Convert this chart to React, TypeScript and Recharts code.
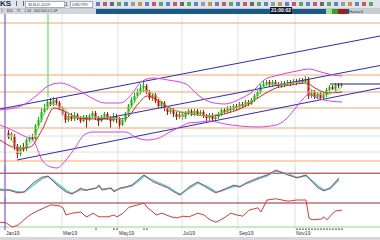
import React from 'react';
import { ComposedChart, Bar, Line, XAxis, YAxis, ReferenceLine, Scatter } from 'recharts';

// ---------- data ----------
const FIRST_DAY = 3;
const X_MAX = 126.67;

// candles: [open, high, low, close]
const ohlc: number[][] = [
  [167,170,161,163],[163,168,160,166],[165,166,150,154],[154,156,142,146],[146,155,144,153],
  [153,157,148,150],[151,162,149,160],[160,165,158,163],[163,166,159,161],[161,176,160,174],
  [174,183,172,180],[180,192,178,188],[188,196,186,192],[192,201,190,198],[198,202,194,196],
  [196,203,194,200],[200,202,195,197],[197,199,190,192],[192,194,184,186],[186,188,177,180],
  [180,186,178,184],[184,187,179,181],[181,188,179,185],[185,187,180,182],[182,184,177,179],
  [179,185,178,183],[183,185,172,180],[180,186,179,184],[184,189,182,187],[187,189,180,182],
  [182,184,174,179],[179,185,178,183],[183,188,181,186],[186,188,180,182],[182,184,172,179],
  [179,187,178,184],[184,186,177,181],[181,183,171,175],[175,182,174,180],[180,188,178,186],
  [186,196,184,194],[194,203,192,200],[200,207,197,204],[204,211,202,208],[208,216,206,212],
  [212,218,208,214],[214,216,206,208],[208,210,200,202],[202,207,199,205],[205,207,197,199],
  [199,201,192,194],[194,199,191,197],[197,199,189,192],[192,194,185,188],[188,192,186,190],
  [190,192,183,186],[186,188,180,183],[183,188,181,186],[186,188,180,183],[183,189,181,187],
  [187,191,185,189],[189,191,184,186],[186,191,184,189],[189,191,184,186],[186,190,184,188],
  [188,190,182,184],[184,186,179,182],[182,187,179,185],[185,187,178,181],[181,185,179,183],
  [183,188,181,186],[186,192,184,190],[190,192,186,188],[188,194,187,192],[192,194,188,190],
  [190,196,189,194],[194,196,190,192],[192,198,191,196],[196,198,192,194],[194,200,193,198],
  [198,200,194,196],[196,202,195,200],[200,206,198,204],[204,210,202,208],[208,216,206,214],
  [214,219,212,216],[216,220,214,218],[218,220,213,215],[215,220,213,218],[218,220,214,216],
  [216,218,212,214],[214,219,212,217],[217,219,213,215],[215,220,214,218],[218,220,214,216],
  [216,221,215,219],[219,221,215,217],[217,222,216,220],[220,222,216,218],[218,224,217,221],
  [221,223,201,204],[204,210,202,208],[208,210,201,203],[203,208,201,206],[206,208,200,202],
  [202,207,200,205],[205,212,203,210],[210,215,208,213],[213,215,210,211],[211,217,209,215],
  [215,217,212,214],[214,217,213,216],
];

const upperDays = [0,7,12,16,20,25,30,35,40,44,47,51,56,62,66,70,75,80,84,88,93,99,103,107,111,114];
const upperBand = [190,194,204,214,217,212,203,197,197,206,218,222,220,216,205,198,196,201,208,220,225,229,231,228,225,224];

const lowerDays = [0,4,8,11,14,17,19,22,25,28,31,38,42,45,49,53,56,60,63,67,70,75,80,86,92,95,98,101,103,105,108,114];
const lowerBand = [175,170,164,160,140,133,132,140,152,165,168,168,168,163,160,162,167,173,177,178,179,176,174,173,175,180,190,201,206,203,200,198];

const slowDays = [0,6,10,14,18,22,26,32,38,42,46,49,53,58,64,70,76,82,87,92,97,102,105,109,114];
const slowMa = [160,152,153,170,192,188,182,181,181,182,196,204,199,190,186,184,187,194,204,212,215,217,212,207,208];

const fastDays = [3,7,11,14,17,21,25,31,37,41,44,48,52,57,63,69,74,80,85,89,95,101,104,108,114];
const fastMa = [163,152,160,182,196,192,183,183,182,181,194,210,204,191,187,184,187,194,201,215,216,218,210,205,213];

const stochDays = [0,3,6,8,11,14,16,19,22,24,27,28,29,32,33,34,37,38,40,42,44,47,48,51,56,58,60,63,66,69,72,74,78,80,82,86,89,92,96,99,102,106,108,110,113];
const stochK = [33,33,25,28,53,69,72,47,28,22,39,33,33,39,47,33,39,28,39,42,47,69,75,56,39,28,19,42,56,39,25,33,47,42,53,67,75,89,75,67,75,39,31,39,67];
const stochD = [35,34,28,27,47,65,71,52,32,24,35,34,34,38,44,36,38,31,37,41,45,64,73,60,42,31,21,38,53,43,28,31,44,43,51,64,73,86,78,68,73,44,33,37,62];

const rsiDays = [0,2,4,6,8,10,11,13,17,20,21,22,24,27,28,29,31,33,36,38,39,41,43,46,48,49,51,52,54,57,59,61,63,66,68,70,72,74,77,79,81,83,86,87,89,92,96,99,102,103,104,107,108,109,111,112,114];
const rsiValues = [38,37,30,33,42,50,53,58,67,65,62,50,53,55,50,47,53,47,47,50,47,53,63,67,70,63,55,50,53,47,45,48,47,53,50,42,38,43,53,50,48,58,62,55,75,77,73,75,75,45,42,43,47,42,53,57,58];

const eventDays = [32,38,39,48,49,99,100,101,102,103,104,105,106,107,108,109,110,111,112,113,114];

const levelLines = [277,225,208,192,172,139];
const faintLevels = [164,148];
const monthTicks = [1.67,20.67,39.33,60.67,79.33,98.33];
const monthLabels = ['Jan19','Mar19','May19','Jul19','Sep19','Nov19'];

const trendTop = [{ x: 0, y: 191 }, { x: X_MAX, y: 264 }];
const trendMid = [{ x: 32.3, y: 180 }, { x: X_MAX, y: 234.5 }];
const trendLow = [{ x: 5.67, y: 140 }, { x: X_MAX, y: 212 }];
const markerDay = 1.67;
const signalDay = 16;
const signalTop = 203;
const lastPrice = 216;
const lastPriceFrom = 110;

// ---------- tables ----------
function merge(base: Map<number, any>, days: number[], key: string, vals: number[]) {
  days.forEach((d, i) => {
    if (!base.has(d)) base.set(d, { day: d });
    base.get(d)[key] = vals[i];
  });
}

const priceRows = (() => {
  const m = new Map<number, any>();
  ohlc.forEach(([o, h, l, c], i) => {
    const d = FIRST_DAY + i;
    m.set(d, { day: d, open: o, high: h, low: l, close: c, range: [l, h] });
  });
  merge(m, upperDays, 'upper', upperBand);
  merge(m, lowerDays, 'lower', lowerBand);
  merge(m, slowDays, 'slow', slowMa);
  merge(m, fastDays, 'fast', fastMa);
  return [...m.values()].sort((a, b) => a.day - b.day);
})();

const stochRows = (() => {
  const m = new Map<number, any>();
  merge(m, stochDays, 'k', stochK);
  merge(m, stochDays, 'd', stochD);
  return [...m.values()].sort((a, b) => a.day - b.day);
})();

const rsiRows = (() => {
  const m = new Map<number, any>();
  merge(m, rsiDays, 'rsi', rsiValues);
  return [...m.values()].sort((a, b) => a.day - b.day);
})();

const eventRows = eventDays.map((d) => ({ day: d, ev: 26 }));

// ---------- shapes ----------
const Candle = (props: any) => {
  const { x, y, width, height, payload } = props;
  if (!payload || payload.open == null || !isFinite(height)) return null;
  const { open, close, high, low } = payload;
  const top = Math.min(y, y + height);
  const h = Math.abs(height);
  const ratio = h / (high - low);
  const yo = top + (high - open) * ratio;
  const yc = top + (high - close) * ratio;
  const up = close >= open;
  const color = up ? '#00c000' : '#e00000';
  const cx = x + width / 2;
  const bt = Math.min(yo, yc);
  const bh = Math.max(1, Math.abs(yo - yc));
  return (
    <g>
      <line x1={cx} x2={cx} y1={top} y2={top + h} stroke={color} strokeWidth={1} />
      <rect x={x} y={bt} width={width} height={bh} fill={color} />
    </g>
  );
};

const EventMark = (props: any) => {
  const { cx, cy } = props;
  return <rect x={cx - 0.5} y={cy - 1} width={1} height={2} fill="#222" />;
};

const MonthTick = (props: any) => {
  const { x, y, payload } = props;
  const i = monthTicks.indexOf(payload.value);
  return (
    <text x={x + 1} y={y + 5} fontSize={5} fill="#333" textAnchor="start" fontFamily="Liberation Sans, Arial, sans-serif">
      {monthLabels[i]}
    </text>
  );
};

const gridLines = (prefix: string) =>
  monthTicks.map((d) => <ReferenceLine key={prefix + d} x={d} stroke="#e2e2e2" />);

// ---------- toolbar ----------
const iconColors = ['#3a6cc0', '#c03838', '#4a4a4a', '#2f9a3a', '#3a6cc0', '#8a8a8a', '#c08020', '#3a6cc0', '#c03838', '#2f9a3a'];

function Toolbar() {
  const icons = [];
  for (let i = 0; i < 40; i++) {
    icons.push(
      <div key={i} style={{ position: 'absolute', left: 96 + i * 7, top: 2, width: 4, height: 4, background: iconColors[i % iconColors.length], opacity: 0.8 }} />
    );
  }
  return (
    <>
      <div style={{ position: 'absolute', left: 0, top: 0, width: 380, height: 8, background: '#e1e4ea', borderBottom: '1px solid #c4c8d0' }}>
        <div style={{ position: 'absolute', left: 0, top: -1, fontSize: 8, fontWeight: 'bold', color: '#1a2a4a', lineHeight: '9px' }}>KS</div>
        <div style={{ position: 'absolute', left: 16, top: 1, width: 6, height: 5, borderLeft: '1px solid #667', borderRight: '1px solid #667' }} />
        <div style={{ position: 'absolute', left: 25, top: 1, width: 36, height: 5, background: '#fff', border: '1px solid #aab', fontSize: 4, lineHeight: '5px', color: '#333', paddingLeft: 2 }}>SLN-D-2019</div>
        <div style={{ position: 'absolute', left: 65, top: 1, fontSize: 5, lineHeight: '6px', color: '#333' }}>1</div>
        <div style={{ position: 'absolute', left: 70, top: 1, width: 20, height: 5, background: '#fff', border: '1px solid #aab', fontSize: 4, lineHeight: '5px', color: '#333', paddingLeft: 1 }}>USDTRY</div>
        {icons}
      </div>
      <div style={{ position: 'absolute', left: 0, top: 9, width: 96, height: 5, background: '#d3d7dd', fontSize: 3.5, lineHeight: '5px', color: '#333', whiteSpace: 'nowrap' }}>
        &nbsp;1 &nbsp;&nbsp; 600 &nbsp;&nbsp; 75 &nbsp;&nbsp; 1.00 &nbsp; 600 600.0 1.0F
      </div>
      <div style={{ position: 'absolute', left: 96, top: 9, width: 284, height: 5, background: '#1b5a88' }} />
      <div style={{ position: 'absolute', left: 270, top: 7, width: 22, height: 7, background: '#0b1830', color: '#fff', fontSize: 5, fontWeight: 'bold', lineHeight: '7px', textAlign: 'center' }}>21:00:02</div>
      <div style={{ position: 'absolute', left: 326, top: 9, width: 6, height: 5, background: '#a8d890' }} />
      <div style={{ position: 'absolute', left: 332, top: 9, width: 6, height: 5, background: '#3a9a3a' }} />
      <div style={{ position: 'absolute', left: 338, top: 9, width: 9, height: 5, background: '#9a2020' }} />
      <div style={{ position: 'absolute', left: 349, top: 9, width: 31, height: 5, background: '#c8ccd2', fontSize: 4, lineHeight: '5px', color: '#333' }}>Harita.tl</div>
    </>
  );
}

// ---------- app ----------
export default function App() {
  const m0 = { top: 0, right: 0, bottom: 0, left: 0 };
  return (
    <div style={{ position: 'relative', width: 380, height: 240, overflow: 'hidden', background: '#ffffff', fontFamily: '"Liberation Sans", Arial, sans-serif' }}>
      <style>{'body{margin:0;}'}</style>

      <div style={{ position: 'absolute', left: 0, top: 14 }}>
        <ComposedChart width={380} height={158} data={priceRows} margin={m0}>
          <XAxis dataKey="day" type="number" domain={[0, X_MAX]} hide allowDataOverflow />
          <YAxis type="number" domain={[128, 286]} hide allowDataOverflow />
          {gridLines('p')}
          {faintLevels.map((v) => <ReferenceLine key={'f' + v} y={v} stroke="#e6e0d8" />)}
          {levelLines.map((v) => <ReferenceLine key={'l' + v} y={v} stroke="#f2a868" />)}
          <ReferenceLine x={markerDay} stroke="#8a3cc0" />
          <ReferenceLine segment={[{ x: signalDay, y: 286 }, { x: signalDay, y: signalTop }]} stroke="#44dd44" />
          <ReferenceLine segment={trendTop} stroke="#2a2ac8" />
          <ReferenceLine segment={trendMid} stroke="#2a2ac8" />
          <ReferenceLine segment={trendLow} stroke="#2a2ac8" />
          <Line dataKey="upper" type="monotone" stroke="#e040e0" dot={false} connectNulls isAnimationActive={false} />
          <Line dataKey="lower" type="monotone" stroke="#e040e0" dot={false} connectNulls isAnimationActive={false} />
          <Line dataKey="slow" type="monotone" stroke="#e02020" dot={false} connectNulls isAnimationActive={false} />
          <Line dataKey="fast" type="monotone" stroke="#70cc70" dot={false} connectNulls isAnimationActive={false} />
          <Bar dataKey="range" barSize={2} shape={Candle} isAnimationActive={false} />
          <ReferenceLine segment={[{ x: lastPriceFrom, y: lastPrice }, { x: X_MAX, y: lastPrice }]} stroke="#202088" />
        </ComposedChart>
      </div>

      <div style={{ position: 'absolute', left: 0, top: 166 }}>
        <ComposedChart width={380} height={36} data={stochRows} margin={m0}>
          <XAxis dataKey="day" type="number" domain={[0, X_MAX]} hide allowDataOverflow />
          <YAxis type="number" domain={[0, 100]} hide allowDataOverflow />
          {gridLines('s')}
          <ReferenceLine y={80} stroke="#902830" />
          <ReferenceLine x={markerDay} stroke="#8a3cc0" />
          <Line dataKey="d" type="linear" stroke="#40d8d0" strokeWidth={1.6} dot={false} connectNulls isAnimationActive={false} />
          <Line dataKey="k" type="linear" stroke="#d02848" strokeWidth={0.9} dot={false} connectNulls isAnimationActive={false} />
        </ComposedChart>
      </div>

      <div style={{ position: 'absolute', left: 0, top: 197 }}>
        <ComposedChart width={380} height={43} data={rsiRows} margin={m0}>
          <XAxis dataKey="day" type="number" domain={[0, X_MAX]} ticks={monthTicks} tick={<MonthTick />} tickLine={false} axisLine={false} tickSize={0} tickMargin={0} height={10} interval={0} allowDataOverflow />
          <YAxis type="number" domain={[25, 80]} hide allowDataOverflow />
          {gridLines('r')}
          <ReferenceLine y={70} stroke="#902830" />
          <ReferenceLine y={30} stroke="#90d890" />
          <ReferenceLine x={markerDay} stroke="#8a3cc0" />
          <Line dataKey="rsi" type="linear" stroke="#e03838" dot={false} connectNulls isAnimationActive={false} />
          <Scatter data={eventRows} dataKey="ev" shape={EventMark} isAnimationActive={false} />
        </ComposedChart>
      </div>
      <div style={{ position: 'absolute', left: 0, top: 237, width: 380, height: 3, background: '#d8d8d8' }} />

      <Toolbar />
    </div>
  );
}
